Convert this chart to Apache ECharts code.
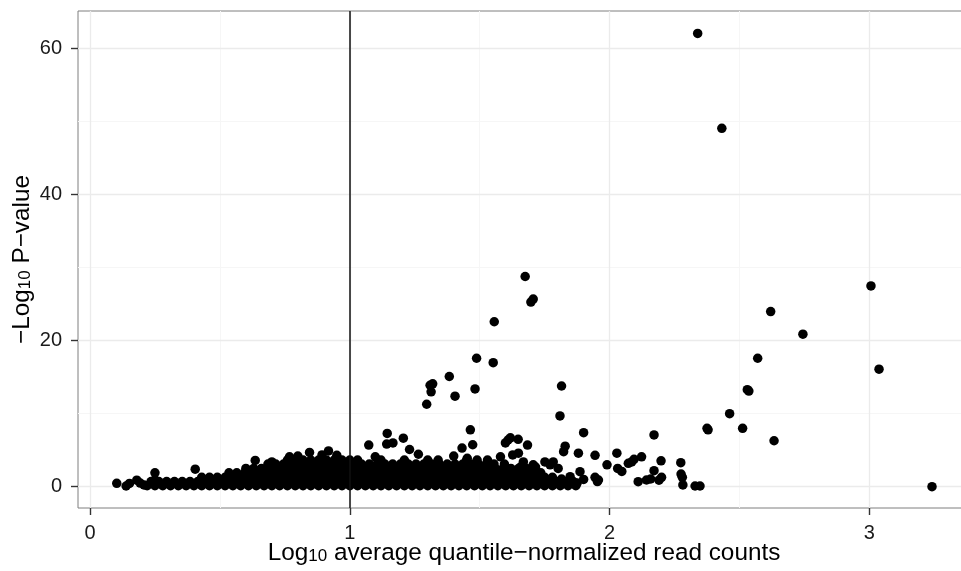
<!DOCTYPE html>
<html>
<head>
<meta charset="utf-8">
<script src="https://cdn.jsdelivr.net/npm/echarts@6/dist/echarts.min.js"></script>
<style>
html,body{margin:0;padding:0;background:#fff;}
#chart{width:961px;height:571px;}
</style>
</head>
<body>
<div id="chart"></div>
<script>
// ---- data ----
const xTicks = [0, 1, 2, 3];
const yTicks = [0, 20, 40, 60];
const xMinorGrid = [0.5, 1.5, 2.5];
const yMinorGrid = [10, 30, 50];
const vLineX = 1;

// isolated points [log10 mean count, -log10 p]
const highPoints = [
  [2.339,62.0],[2.432,49.0],
  [1.675,28.7],[1.697,25.2],[1.706,25.6],[1.556,22.5],[1.488,17.5],[1.552,16.9],[1.383,15.0],[1.405,12.3],
  [1.482,13.3],[1.309,13.8],[1.319,14.0],[1.313,12.9],[1.296,11.2],[1.815,13.7],[1.809,9.6],[1.900,7.3],
  [3.006,27.4],[2.620,23.9],[2.744,20.8],[3.037,16.0],[2.570,17.5],[2.536,13.0],[2.530,13.2],[2.462,9.9],
  [2.512,7.9],[2.375,7.9],[2.379,7.7],[2.633,6.2],[3.241,-0.1],[2.171,7.0]
];
const midPoints = [
  [1.464,7.7],[1.473,5.65],[1.432,5.2],[1.144,7.2],[1.206,6.55],[1.142,5.75],[1.166,5.9],[1.073,5.6],[1.230,5.0],[1.264,4.35],
  [1.609,6.3],[1.618,6.6],[1.648,6.4],[1.599,5.9],[1.684,5.6],[1.627,4.25],[1.649,4.5],[1.668,3.3],[1.706,2.9],[1.657,2.6],[1.715,2.6],
  [1.829,5.45],[1.823,4.7],[1.880,4.5],[1.944,4.2],[2.028,4.5],[1.990,2.9],[2.085,3.3],[2.094,3.65],[2.123,4.0],[2.072,3.1],
  [2.198,3.45],[2.274,3.2],[2.031,2.4],[2.047,2.0],[2.171,2.1],[1.783,3.3],[1.771,2.9],[1.802,2.4],[1.751,3.3],
  [2.275,1.64],[2.280,1.19],[2.282,0.14],[2.329,0.0],[2.348,0.0],[2.158,0.96],[2.200,1.19],[2.142,0.82],[2.110,0.59],[2.190,0.8],
  [1.957,0.82],[1.944,1.19],[1.953,0.6],[1.886,1.96],[1.815,0.96],[1.848,1.27],[1.875,0.4],[1.900,0.9],
  [1.400,4.1],[1.452,3.8],[1.580,4.0],[1.098,4.0],
  [0.103,0.37],[0.139,0.0],[0.152,0.35],[0.180,0.8],[0.193,0.4],[0.250,1.8],[0.250,0.8],[0.405,2.3],[0.208,0.15],
  [0.636,3.5],[0.768,4.0],[0.845,4.6],[0.893,4.25],[0.918,4.8],[0.950,4.2],[0.800,4.1],[0.700,3.3]
];

// dense cloud near zero, read row by row: one y level per row, x positions listed
const cloudRowY = [0.05, 0.6, 1.2, 1.8, 2.4, 3.0, 3.55];
const cloudRow0 = [0.22,0.25,0.28,0.31,0.34,0.37,0.40,0.43,0.46,0.49,0.52,0.55,0.58,0.61,0.64,0.67,0.70,0.73,0.76,0.79,0.82,0.85,0.88,0.91,0.94,0.97,1.00,1.03,1.06,1.09,1.12,1.15,1.18,1.21,1.24,1.27,1.30,1.33,1.36,1.39,1.42,1.45,1.48,1.51,1.54,1.57,1.60,1.63,1.66,1.69,1.72,1.75,1.78,1.81,1.84,1.87];
const cloudRow1 = [0.235,0.265,0.295,0.325,0.355,0.385,0.415,0.445,0.475,0.505,0.535,0.565,0.595,0.625,0.655,0.685,0.715,0.745,0.775,0.805,0.835,0.865,0.895,0.925,0.955,0.985,1.015,1.045,1.075,1.105,1.135,1.165,1.195,1.225,1.255,1.285,1.315,1.345,1.375,1.405,1.435,1.465,1.495,1.525,1.555,1.585,1.615,1.645,1.675,1.705,1.735,1.765,1.795,1.825,1.86];
const cloudRow2 = [0.43,0.46,0.49,0.52,0.55,0.58,0.61,0.64,0.67,0.70,0.73,0.76,0.79,0.82,0.85,0.88,0.91,0.94,0.97,1.00,1.03,1.06,1.09,1.12,1.15,1.18,1.21,1.24,1.27,1.30,1.33,1.36,1.39,1.42,1.45,1.48,1.51,1.54,1.57,1.60,1.63,1.66,1.69,1.72,1.75,1.78];
const cloudRow3 = [0.535,0.565,0.595,0.625,0.655,0.685,0.715,0.745,0.775,0.805,0.835,0.865,0.895,0.925,0.955,0.985,1.015,1.045,1.075,1.105,1.135,1.165,1.195,1.225,1.255,1.285,1.315,1.345,1.375,1.405,1.435,1.465,1.495,1.525,1.555,1.585,1.615,1.645,1.675,1.705,1.735];
const cloudRow4 = [0.60,0.63,0.66,0.69,0.72,0.75,0.78,0.81,0.84,0.87,0.90,0.93,0.96,0.99,1.02,1.05,1.08,1.11,1.14,1.17,1.20,1.23,1.26,1.29,1.32,1.35,1.38,1.41,1.44,1.47,1.50,1.53,1.56,1.59,1.62,1.65,1.68];
const cloudRow5 = [0.685,0.715,0.745,0.775,0.805,0.835,0.865,0.895,0.925,0.955,0.985,1.015,1.045,1.075,1.105,1.135,1.165,1.195,1.225,1.255,1.285,1.315,1.345,1.375,1.405,1.435,1.465,1.495,1.525,1.555,1.595];
const cloudRow6 = [0.76,0.79,0.82,0.85,0.88,0.91,0.94,0.97,1.00,1.03,1.12,1.21,1.30,1.34,1.45,1.49,1.53];
const cloudRowsX = [cloudRow0, cloudRow1, cloudRow2, cloudRow3, cloudRow4, cloudRow5, cloudRow6];

// ---- build ----
const cloudPoints = [];
cloudRowsX.forEach((row, i) => row.forEach(x => cloudPoints.push([x, cloudRowY[i]])));
const allPoints = cloudPoints.concat(midPoints, highPoints);

const FONT = '"Liberation Sans", Arial, Helvetica, sans-serif';
const majorStyle = {color: '#ebebeb', width: 1.3, type: 'solid'};
const minorStyle = {color: '#f6f6f6', width: 1, type: 'solid'};
const gridLines = [];
xMinorGrid.forEach(v => gridLines.push({xAxis: v, lineStyle: minorStyle}));
yMinorGrid.forEach(v => gridLines.push({yAxis: v, lineStyle: minorStyle}));
xTicks.forEach(v => gridLines.push({xAxis: v, lineStyle: majorStyle}));
yTicks.forEach(v => gridLines.push({yAxis: v, lineStyle: majorStyle}));

const chart = echarts.init(document.getElementById('chart'), null, {renderer: 'canvas'});
chart.setOption({
  animation: false,
  backgroundColor: '#fff',
  grid: {left: 78, top: 11, width: 892, height: 497, show: true, borderColor: '#7f7f7f', borderWidth: 1,
         backgroundColor: 'transparent', containLabel: false, outerBoundsMode: 'none'},
  xAxis: {
    type: 'value', min: -0.04619, max: 3.3872,
    axisLine: {show: false, onZero: false},
    axisTick: {show: true, inside: false, length: 7, customValues: xTicks, lineStyle: {color: '#333', width: 1.4}},
    axisLabel: {customValues: xTicks, fontSize: 20, color: '#1a1a1a', fontFamily: FONT, margin: 15},
    splitLine: {show: false},
    name: '{a|Log}{b|10}{a| average quantile\u2212normalized read counts}',
    nameLocation: 'middle', nameGap: 31, nameMoveOverlap: false,
    nameTextStyle: {
      color: '#000', fontFamily: FONT,
      rich: {
        a: {fontSize: 24.3, fontFamily: FONT, color: '#000', lineHeight: 28},
        b: {fontSize: 17, fontFamily: FONT, color: '#000', lineHeight: 17, verticalAlign: 'bottom', padding: [0, 0, 2, 0]}
      }
    }
  },
  yAxis: {
    type: 'value', min: -3.014, max: 65.07,
    axisLine: {show: false, onZero: false},
    axisTick: {show: true, inside: false, length: 7, customValues: yTicks, lineStyle: {color: '#333', width: 1.4}},
    axisLabel: {customValues: yTicks, fontSize: 20, color: '#1a1a1a', fontFamily: FONT, margin: 16},
    splitLine: {show: false},
    name: '{a|\u2212Log}{b|10}{a| P\u2212value}',
    nameLocation: 'middle', nameGap: 42, nameRotate: 90, nameMoveOverlap: false,
    nameTextStyle: {
      color: '#000', fontFamily: FONT,
      rich: {
        a: {fontSize: 24.3, fontFamily: FONT, color: '#000', lineHeight: 28},
        b: {fontSize: 17, fontFamily: FONT, color: '#000', lineHeight: 17, verticalAlign: 'bottom', padding: [0, 0, 2, 0]}
      }
    }
  },
  series: [
    {
      type: 'scatter', data: [], z: 0, silent: true,
      markLine: {silent: true, z: 0, zlevel: 0, symbol: ['none', 'none'], label: {show: false}, animation: false, data: gridLines}
    },
    {
      type: 'scatter', data: allPoints, z: 3, symbol: 'circle', symbolSize: 9.5,
      itemStyle: {color: '#000', opacity: 1}, silent: true
    },
    {
      type: 'scatter', data: [], z: 4, silent: true,
      markLine: {silent: true, z: 4, symbol: ['none', 'none'], label: {show: false}, animation: false,
        data: [{xAxis: vLineX, lineStyle: {color: '#111', width: 1.5, type: 'solid'}}]}
    }
  ]
});
</script>
</body>
</html>
